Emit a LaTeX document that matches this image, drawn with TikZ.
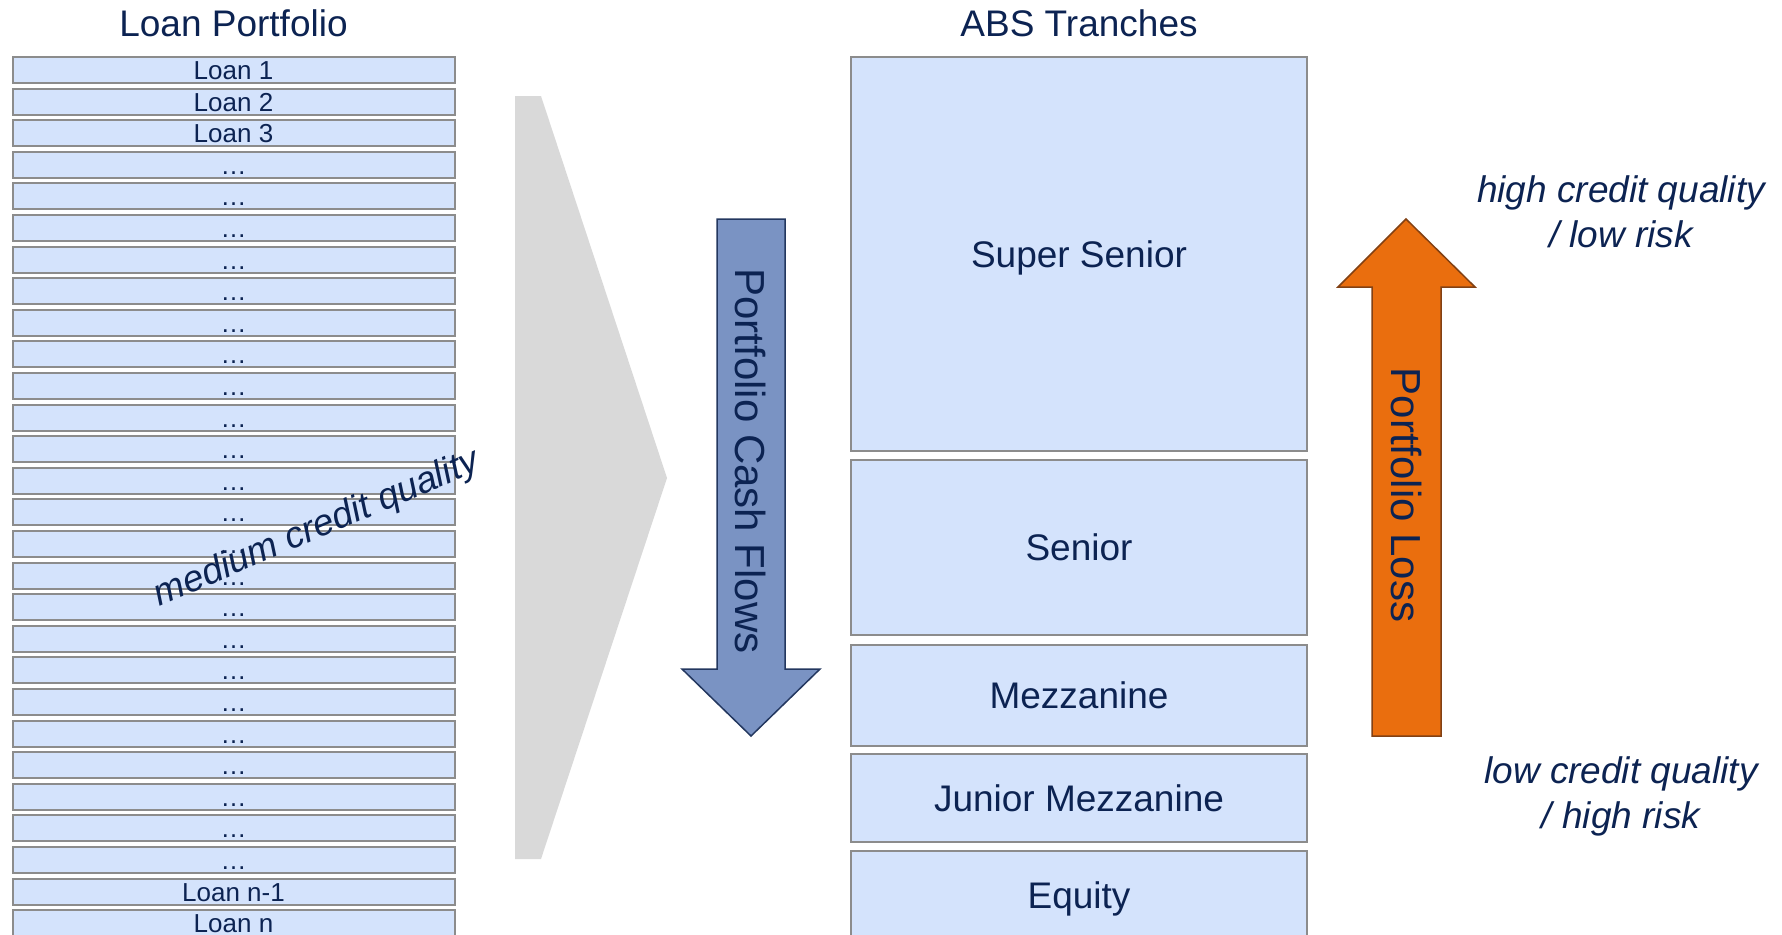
\documentclass[tikz,border=0pt]{standalone}
\usepackage{fontspec}
\setmainfont{Liberation Sans}
\usepackage{tikz}
\usetikzlibrary{calc}

\definecolor{navy}{RGB}{12,35,82}
\definecolor{boxfill}{RGB}{212,227,252}
\definecolor{boxline}{RGB}{140,140,140}
\definecolor{chevron}{RGB}{217,217,217}
\definecolor{flowblue}{RGB}{122,147,195}
\definecolor{flowline}{RGB}{35,55,95}
\definecolor{lossorange}{RGB}{234,110,14}
\definecolor{lossline}{RGB}{130,65,20}

\begin{document}
\begin{tikzpicture}[
        x=0.5pt, y=-0.5pt,
        loan-box/.style={rectangle,draw=boxline,fill=boxfill,line width=1pt,
            minimum width=221pt,minimum height=13pt,inner sep=0pt,text=navy,
            font=\fontsize{13}{15}\selectfont,text height=9.5pt,text depth=0pt},
        tranche-box/.style={rectangle,draw=boxline,fill=boxfill,line width=1pt,
            minimum width=228pt,inner sep=0pt,text=navy,
            font=\fontsize{18.5}{22}\selectfont,text height=13.2pt,text depth=0pt},
        head-text/.style={text=navy,font=\fontsize{18.5}{22}\selectfont,anchor=base},
        arrow-text/.style={text=navy,font=\fontsize{21}{25}\selectfont,rotate=-90},
        risk-text/.style={text=navy,font=\fontsize{18.5}{22.5}\selectfont\itshape,align=center}
    ]
        \useasboundingbox (0,0) rectangle (1782,934);

        % big grey chevron between the two columns
        \fill[chevron] (515,96) -- (541,96) -- (667,478) -- (541,859) -- (515,859) -- cycle;

        % loan portfolio
        \node[head-text] (loans) at (233.5,36) {Loan Portfolio};
        \node[loan-box] (l1) at (233.5,70) {Loan 1};
        \node[loan-box] (l2) at (233.5,101.6) {Loan 2};
        \node[loan-box] (l3) at (233.5,133.2) {Loan 3};
        \foreach \i in {4,...,26}
            \node[loan-box] (l\i) at (233.5,{70+31.6*(\i-1)}) {…};
        \node[loan-box] (l27) at (233.5,891.6) {Loan n-1};
        \node[loan-box] (l28) at (233.5,923.2) {Loan n};

        \node[risk-text, rotate=23] (medium) at (317,529) {medium credit quality};

        % cash flow arrow
        \draw[fill=flowblue, draw=flowline, line width=0.75pt]
            (717,219) -- (785,219) -- (785,669) -- (820,669) -- (751,736)
            -- (682,669) -- (717,669) -- cycle;
        \node[arrow-text] (cash) at (751,461) {Portfolio Cash Flows};

        % ABS tranches
        \node[head-text] (abs) at (1079,36) {ABS Tranches};
        \node[tranche-box, minimum height=197pt] (super) at (1079,254) {Super Senior};
        \node[tranche-box, minimum height=87.5pt] (senior) at (1079,547.5) {Senior};
        \node[tranche-box, minimum height=50.5pt] (mezz) at (1079,695.5) {Mezzanine};
        \node[tranche-box, minimum height=44pt] (jmezz) at (1079,798) {Junior Mezzanine};
        \node[tranche-box, minimum height=44pt] (equity) at (1079,895) {Equity};

        % loss arrow
        \draw[fill=lossorange, draw=lossline, line width=0.75pt]
            (1372,736) -- (1441,736) -- (1441,287) -- (1475,287) -- (1406,219)
            -- (1338,287) -- (1372,287) -- cycle;
        \node[arrow-text] (loss) at (1406,495) {Portfolio Loss};

        \node[risk-text] (high) at (1621,212) {high credit quality\\/ low risk};
        \node[risk-text] (low) at (1621,796) {low credit quality\\/ high risk};
    \end{tikzpicture}
\end{document}
